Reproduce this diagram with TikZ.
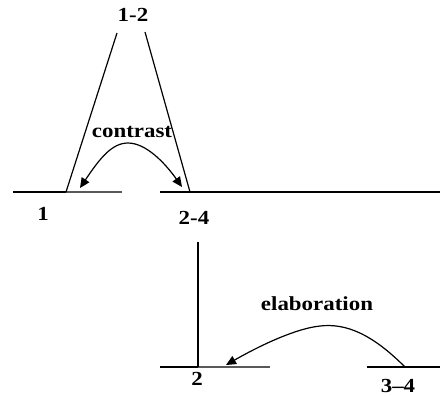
\documentclass[tikz,border=0pt]{standalone}
\usepackage{fontspec}
\setmainfont{Liberation Serif}
\usetikzlibrary{arrows.meta,positioning}
\tikzset{
  rstlabel/.style={font=\bfseries\fontsize{20}{23}\selectfont, inner sep=1pt, xscale=1.15},
  span/.style={line width=1.2bp, black},
  segmark/.style={line width=1.7bp, black!65},
  relarrow/.style={line width=1.2bp, {Triangle[length=10bp,width=9bp]}-{Triangle[length=10bp,width=9bp]}},
  relarrowone/.style={line width=1.2bp, -{Triangle[length=10bp,width=9bp]}}
}
\begin{document}
\begin{tikzpicture}[x=1bp, y=-1bp]
  \useasboundingbox (0,0) rectangle (440,396);
  % upper tree: 1-2 over 1 and 2-4
  \node[rstlabel] (n12) at (133,15) {1-2};
  \node[rstlabel] (n1) at (43,214) {1};
  \node[rstlabel] (n24) at (194,218) {2-4};
  \node[rstlabel] (contrast) at (132,132) {contrast};
  \coordinate (legl) at (117,33);
  \coordinate (legr) at (145,32);
  \coordinate (footl) at (66,192);
  \coordinate (footr) at (190,192);
  \coordinate (base1a) at (13,192);
  \coordinate (base1b) at (122,192);
  \coordinate (base2a) at (160,192);
  \coordinate (base2b) at (440,192);
  \draw[span] (base1a) -- (footl);
  \draw[segmark] (footl) -- (base1b);
  \draw[span] (base2a) -- (base2b);
  \draw[span] (legl) -- (footl);
  \draw[span] (legr) -- (footr);
  \coordinate (ctl) at (80,188);
  \coordinate (ctr) at (182,187);
  \draw[relarrow] (ctl) .. controls (100,158) and (112,143) .. (128,143)
    .. controls (146,143) and (165,163) .. (ctr);
  % lower tree: 2 with 3-4
  \node[rstlabel] (n2) at (197,379) {2};
  \node[rstlabel] (n34) at (398,386) {3--4};
  \node[rstlabel] (elab) at (317,304) {elaboration};
  \coordinate (vtop) at (198,242);
  \coordinate (vfoot) at (198,367);
  \coordinate (base3a) at (160,367);
  \coordinate (base3b) at (270,367);
  \coordinate (base4a) at (367,367);
  \coordinate (base4b) at (440,367);
  \draw[span] (base3a) -- (vfoot);
  \draw[segmark] (vfoot) -- (base3b);
  \draw[span] (base4a) -- (base4b);
  \draw[span] (vtop) -- (vfoot);
  \coordinate (elfrom) at (405,367);
  \coordinate (elto) at (226,365);
  \draw[relarrowone] (elfrom) .. controls (372,334) and (346,323) .. (320,326)
    .. controls (292,329) and (252,350) .. (elto);
\end{tikzpicture}
\end{document}
